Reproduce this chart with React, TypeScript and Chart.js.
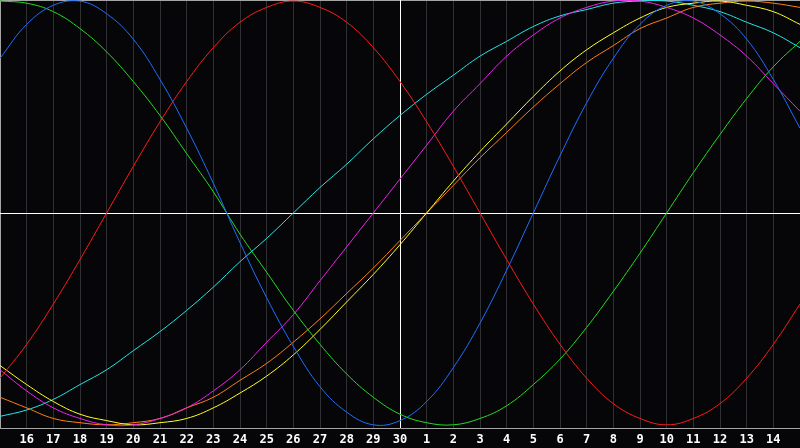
import React, { useEffect, useRef } from 'react';
import { Chart, registerables } from 'chart.js';

Chart.register(...registerables);

// Day labels: t = 0 .. 30
const dayLabels = [
  '15', '16', '17', '18', '19', '20', '21', '22', '23', '24', '25', '26', '27', '28', '29', '30',
  '1', '2', '3', '4', '5', '6', '7', '8', '9', '10', '11', '12', '13', '14', '15',
];

// Series values (percent), one per day
const physical = [73, 89, 98, 100, 94, 82, 63, 40, 14, -14, -40, -63, -82, -94, -100, -98, -89, -73, -52, -27, 0, 27, 52, 73, 89, 98, 100, 94, 82, 63, 40];
const emotional = [-78, -62, -43, -22, 0, 22, 43, 62, 78, 90, 97, 100, 97, 90, 78, 62, 43, 22, 0, -22, -43, -62, -78, -90, -97, -100, -97, -90, -78, -62, -43];
const intellectual = [100, 99, 95, 87, 76, 62, 46, 28, 10, -10, -28, -46, -62, -76, -87, -95, -99, -100, -97, -91, -81, -69, -54, -37, -19, 0, 19, 37, 54, 69, 81];
const intuitive = [-74, -84, -92, -97, -100, -100, -97, -92, -84, -74, -61, -48, -32, -16, 0, 16, 32, 48, 61, 74, 84, 92, 97, 100, 100, 97, 92, 84, 74, 61, 48];
const aesthetic = [-72, -81, -89, -95, -98, -100, -99, -97, -92, -85, -77, -67, -55, -42, -29, -15, 0, 15, 29, 42, 55, 67, 77, 85, 92, 97, 99, 100, 98, 95, 89];
const awareness = [-87, -92, -97, -99, -100, -99, -97, -92, -87, -79, -71, -61, -50, -38, -26, -13, 0, 13, 26, 38, 50, 61, 71, 79, 87, 92, 97, 99, 100, 99, 97];
const spiritual = [-96, -93, -88, -81, -74, -65, -56, -46, -35, -23, -12, 0, 12, 23, 35, 46, 56, 65, 74, 81, 88, 93, 96, 99, 100, 100, 98, 95, 90, 85, 78];

const BG = '#060608';

export default function App() {
  const ref = useRef<HTMLCanvasElement>(null);

  useEffect(() => {
    document.body.style.margin = '0';
    document.body.style.background = BG;
    const canvas = ref.current;
    if (!canvas) return;

    const mk = (vals: number[], color: string) => ({
      data: vals.map((y, i) => ({ x: i, y })),
      borderColor: color,
      borderWidth: 1,
      pointRadius: 0,
      pointHoverRadius: 0,
      tension: 0.4,
      fill: false,
    });

    const bgPlugin = {
      id: 'bg',
      beforeDraw(chart: any) {
        const c = chart.ctx;
        c.save();
        c.fillStyle = BG;
        c.fillRect(0, 0, chart.width, chart.height);
        c.restore();
      },
    };

    const centerPlugin = {
      id: 'centerLines',
      beforeDatasetsDraw(chart: any) {
        const c = chart.ctx;
        const { left, right, top, bottom } = chart.chartArea;
        const xs = chart.scales.x;
        const ys = chart.scales.y;
        c.save();
        c.lineWidth = 1;
        // gray border left and top
        c.strokeStyle = '#a4a4a4';
        c.beginPath();
        c.moveTo(left + 0.5, bottom);
        c.lineTo(left + 0.5, top + 0.5);
        c.lineTo(right, top + 0.5);
        c.stroke();
        // white centre lines
        c.strokeStyle = '#ffffff';
        const y0 = Math.round(ys.getPixelForValue(0)) + 0.5;
        const x0 = Math.round(xs.getPixelForValue(15)) + 0.5;
        c.beginPath();
        c.moveTo(left, y0);
        c.lineTo(right, y0);
        c.moveTo(x0, top);
        c.lineTo(x0, bottom);
        c.stroke();
        c.restore();
      },
    };

    const chart = new Chart(canvas, {
      type: 'line',
      data: {
        datasets: [
          mk(physical, '#1e6eff'),
          mk(emotional, '#ff1a1a'),
          mk(intellectual, '#22dd22'),
          mk(intuitive, '#ee22ee'),
          mk(aesthetic, '#ffff22'),
          mk(awareness, '#ff7f11'),
          mk(spiritual, '#22e6e6'),
        ] as any,
      },
      options: {
        animation: false,
        responsive: false,
        devicePixelRatio: 1,
        events: [],
        layout: { padding: 0, autoPadding: false } as any,
        plugins: {
          legend: { display: false },
          tooltip: { enabled: false },
          title: { display: false },
        },
        scales: {
          x: {
            type: 'linear',
            min: 0,
            max: 30,
            afterFit: (scale: any) => {
              scale.height = 20;
            },
            ticks: {
              stepSize: 1,
              autoSkip: false,
              maxRotation: 0,
              minRotation: 0,
              padding: 0,
              color: '#ffffff',
              font: { family: '"DejaVu Sans Mono", monospace', size: 12, weight: 'bold' },
              callback: (val: any) => {
                const i = Number(val);
                if (i <= 0 || i >= 30) return '';
                return dayLabels[i];
              },
            },
            grid: {
              color: '#303034',
              lineWidth: 1,
              drawTicks: true,
              tickLength: 5,
              tickColor: 'rgba(0,0,0,0)',
            },
            border: { display: true, color: '#a4a4a4', width: 1 },
          },
          y: {
            display: false,
            min: -101.5,
            max: 100.5,
          },
        },
      } as any,
      plugins: [bgPlugin, centerPlugin],
    });

    return () => chart.destroy();
  }, []);

  return (
    <div style={{ width: 800, height: 448, background: BG }}>
      <canvas ref={ref} width={800} height={448} style={{ display: 'block', width: 800, height: 448 }} />
    </div>
  );
}
